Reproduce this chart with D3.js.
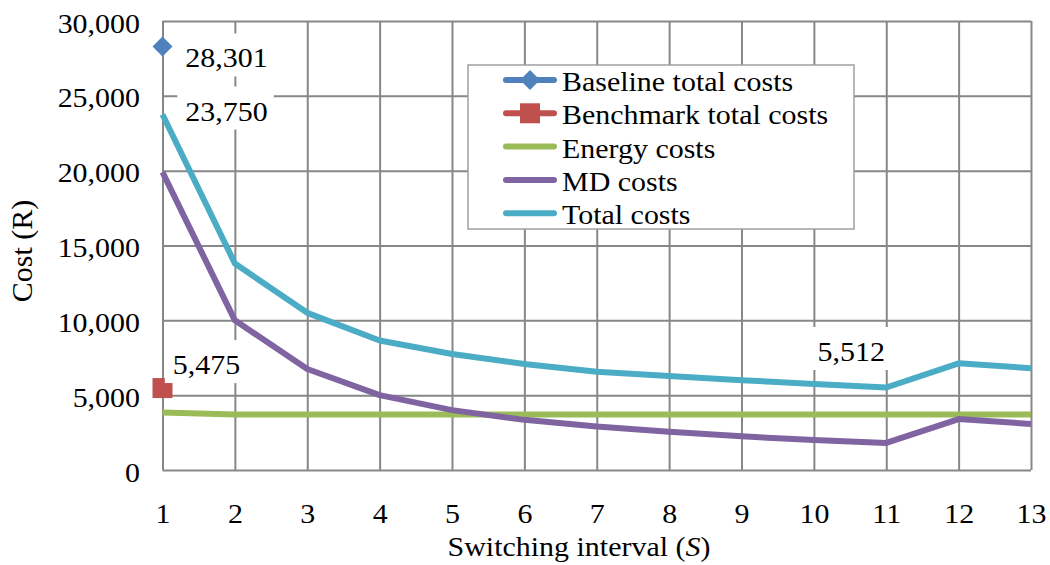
<!DOCTYPE html>
<html>
<head>
<meta charset="utf-8">
<script src="https://cdn.jsdelivr.net/npm/d3@7"></script>
<style>
  html, body { margin: 0; padding: 0; background: #fff; }
  svg { display: block; }
  text { font-family: "Liberation Serif", "Times New Roman", serif; fill: #000; }
</style>
</head>
<body>
<svg id="chart" width="1050" height="565"></svg>
<script>
// Switching interval S (1..13)
const intervals = [1, 2, 3, 4, 5, 6, 7, 8, 9, 10, 11, 12, 13];
// Cost components per interval (R)
const energyCosts = [3850, 3700, 3700, 3700, 3700, 3700, 3700, 3700, 3700, 3700, 3700, 3700, 3700];
const mdCosts     = [19900, 10000, 6750, 5000, 4000, 3350, 2900, 2560, 2250, 2000, 1812, 3400, 3080];
const totalCosts  = [23750, 13800, 10500, 8650, 7750, 7080, 6560, 6280, 6000, 5750, 5512, 7130, 6800];
// Single reference points at S = 1
const baselineTotal  = [{ s: 1, v: 28301 }];
const benchmarkTotal = [{ s: 1, v: 5475 }];
// Axis ticks
const yTicks = [0, 5000, 10000, 15000, 20000, 25000, 30000];
const seriesNames = ["Baseline total costs", "Benchmark total costs", "Energy costs", "MD costs", "Total costs"];

const C = {
  blue: "#4f81bd", red: "#c0504d", green: "#9bbb59", purple: "#8064a2", cyan: "#4bacc6",
  grid: "#878787", legendBorder: "#a0a0a0"
};
const FS = 28, SX = 1.07;

const svg = d3.select("#chart");
const L = 162.5, R = 1031, T = 21, B = 470;
const x = d3.scaleLinear().domain([1, 13]).range([L, R]);
const y = d3.scaleLinear().domain([0, 30000]).range([B, T]);

// Text with slight horizontal stretch, anchored at (px, py)
function label(parent, px, py, anchor) {
  return parent.append("g")
    .attr("transform", `translate(${px},${py}) scale(${SX},1)`)
    .append("text")
    .attr("text-anchor", anchor || "start")
    .style("font-size", FS + "px");
}

// Y axis with horizontal gridlines
const yAxis = svg.append("g")
  .attr("transform", `translate(${L},0)`)
  .call(d3.axisLeft(y).tickValues(yTicks).tickSize(-(R - L)).tickFormat(d3.format(",")));
yAxis.select(".domain").remove();
yAxis.selectAll(".tick line").attr("stroke", C.grid).attr("stroke-width", 2);
yAxis.selectAll(".tick text")
  .attr("x", -22.5 / SX).attr("dy", 11)
  .attr("transform", `scale(${SX},1)`)
  .style("font-size", FS + "px")
  .style("font-family", '"Liberation Serif", serif')
  .attr("fill", "#000");

// X axis with vertical gridlines
const xAxis = svg.append("g")
  .attr("transform", `translate(0,${B})`)
  .call(d3.axisBottom(x).tickValues(intervals).tickSize(-(B - T)).tickFormat(d3.format("d")));
xAxis.select(".domain").remove();
xAxis.selectAll(".tick line").attr("stroke", C.grid).attr("stroke-width", 2);
xAxis.selectAll(".tick text")
  .attr("y", 0).attr("dy", 53)
  .attr("transform", `scale(${SX},1)`)
  .attr("x", 0)
  .style("font-size", FS + "px")
  .style("font-family", '"Liberation Serif", serif')
  .attr("fill", "#000");

// Series lines
const line = d3.line().x((d, i) => x(intervals[i])).y(d => y(d));
[[energyCosts, C.green], [mdCosts, C.purple], [totalCosts, C.cyan]].forEach(([data, col]) => {
  svg.append("path").datum(data)
    .attr("d", line)
    .attr("fill", "none")
    .attr("stroke", col)
    .attr("stroke-width", 6)
    .attr("stroke-linejoin", "round");
});

// Markers
const diamond = d3.symbol().type(d3.symbolSquare).size(200);
const square = d3.symbol().type(d3.symbolSquare).size(400);
svg.selectAll(".base").data(baselineTotal).join("path")
  .attr("d", diamond)
  .attr("transform", d => `translate(${x(d.s)},${y(d.v)}) rotate(45)`)
  .attr("fill", C.blue);
svg.selectAll(".bench").data(benchmarkTotal).join("path")
  .attr("d", square)
  .attr("transform", d => `translate(${x(d.s)},${y(d.v)})`)
  .attr("fill", C.red);

// Data labels with white boxes
const fmt = d3.format(",");
function dataLabel(s, v, dx, dy) {
  const cx = x(s) + dx, by = y(v) + dy;
  const g = svg.append("g");
  const rect = g.append("rect").attr("fill", "#fff");
  const t = label(g, cx, by, "middle").text(fmt(v));
  const w = t.node().getComputedTextLength() * SX;
  rect.attr("x", cx - w / 2 - 8).attr("y", by - 34).attr("width", w + 14).attr("height", 43);
}
dataLabel(1, baselineTotal[0].v, 64, 21);
dataLabel(1, totalCosts[0], 64, 6);
dataLabel(1, benchmarkTotal[0].v, 44, -14);
dataLabel(11, totalCosts[10], -35, -26.5);

// Legend
const lg = svg.append("g");
lg.append("rect").attr("x", 468).attr("y", 65).attr("width", 386).attr("height", 164)
  .attr("fill", "#fff").attr("stroke", C.legendBorder).attr("stroke-width", 1.5);
const legendCols = [C.blue, C.red, C.green, C.purple, C.cyan];
seriesNames.forEach((name, i) => {
  const ry = 80 + i * 33.3;
  lg.append("line").attr("x1", 506).attr("x2", 554).attr("y1", ry).attr("y2", ry)
    .attr("stroke", legendCols[i]).attr("stroke-width", 6).attr("stroke-linecap", "round");
  if (i === 0) lg.append("path").attr("d", diamond).attr("transform", `translate(530,${ry}) rotate(45)`).attr("fill", C.blue);
  if (i === 1) lg.append("path").attr("d", square).attr("transform", `translate(530,${ry})`).attr("fill", C.red);
  label(lg, 562, ry + 11, "start").text(name);
});

// Axis titles
const xt = label(svg, 579, 556, "middle");
xt.append("tspan").text("Switching interval (");
xt.append("tspan").style("font-style", "italic").text("S");
xt.append("tspan").text(")");

svg.append("text")
  .attr("transform", "translate(32,251) rotate(-90)")
  .attr("text-anchor", "middle")
  .style("font-size", "30px")
  .text("Cost (R)");
</script>
</body>
</html>
